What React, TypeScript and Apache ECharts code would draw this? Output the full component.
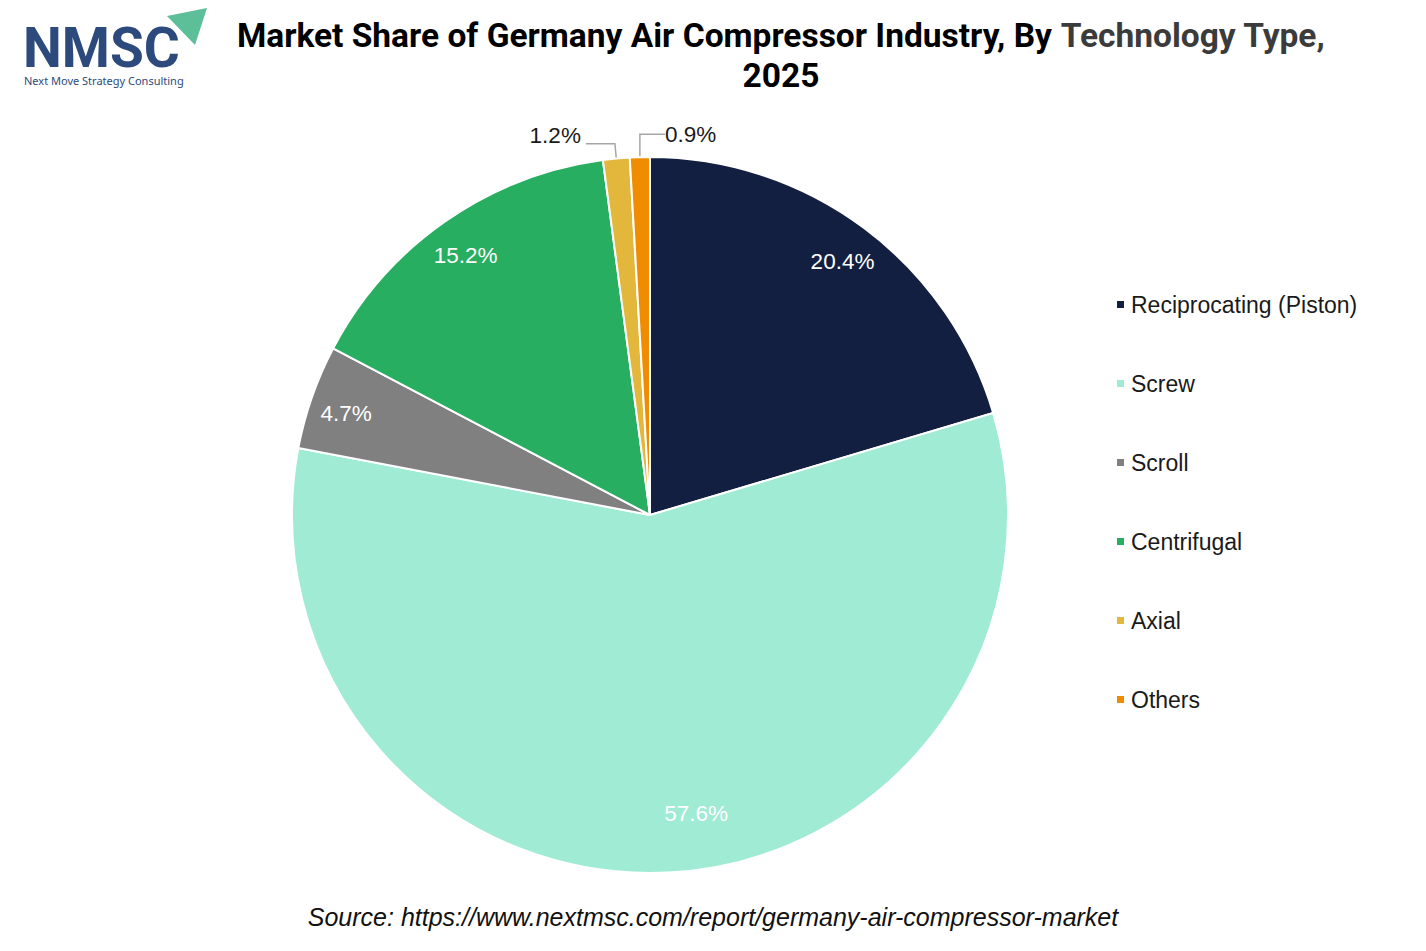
import React, { useEffect, useRef } from 'react';
import * as echarts from 'echarts';

const categories = ['Reciprocating (Piston)', 'Screw', 'Scroll', 'Centrifugal', 'Axial', 'Others'];
const shares = [20.4, 57.6, 4.7, 15.2, 1.2, 0.9];
const colors = ['#121f40', '#a0ebd3', '#808080', '#27ae60', '#e2b73c', '#f08c00'];

const FONT = '"Liberation Sans", Arial, sans-serif';
const SMALL = 2; // slices below this get an outside label

const App: React.FC = () => {
  const chartRef = useRef<HTMLDivElement>(null);

  useEffect(() => {
    document.body.style.margin = '0';
    if (!chartRef.current) return;
    const chart = echarts.init(chartRef.current, undefined, { renderer: 'svg' });

    const pieData = categories.map((name, i) => ({
      name,
      value: shares[i],
      itemStyle: { color: colors[i] },
      label: { show: shares[i] < SMALL },
      labelLine: { show: shares[i] < SMALL },
    }));
    const labelData = categories.map((name, i) => ({
      name,
      value: shares[i],
      label: { show: shares[i] >= SMALL },
    }));

    chart.setOption({
      animation: false,
      backgroundColor: '#ffffff',
      title: {
        text: '{a|Market Share of Germany Air Compressor Industry, By }{b|Technology Type,}\n{a|2025}',
        left: 776,
        top: 10,
        textAlign: 'center',
        textStyle: {
          rich: {
            a: { fontFamily: 'Roboto', fontWeight: 'bold', fontSize: 33.5, color: '#000000', lineHeight: 40 },
            b: { fontFamily: 'Roboto', fontWeight: 'bold', fontSize: 33.5, color: '#3b3b3b', lineHeight: 40 },
          },
        },
      },
      legend: {
        orient: 'vertical',
        left: 1110,
        top: 288,
        itemWidth: 9,
        itemHeight: 9,
        itemGap: 56,
        icon: 'rect',
        data: categories,
        textStyle: { fontFamily: FONT, fontSize: 23, color: '#1a1a1a', padding: [0, 0, 0, 1] },
      },
      graphic: [
        {
          type: 'text',
          left: 23,
          top: 20,
          style: { text: 'NMSC', font: 'bold 55px Roboto', fill: '#2d4a7c', lineHeight: 44 },
        },
        {
          type: 'polygon',
          shape: { points: [[167, 16], [207, 8], [195, 45]] },
          style: { fill: '#5cbf9a' },
        },
        {
          type: 'text',
          left: 24,
          top: 75,
          style: { text: 'Next Move Strategy Consulting', font: '11px "Noto Sans", sans-serif', fill: '#2d4a7c' },
        },
        {
          type: 'text',
          x: 713,
          y: 917,
          style: {
            text: 'Source: https://www.nextmsc.com/report/germany-air-compressor-market',
            font: `italic 25px ${FONT}`,
            fill: '#111111',
            align: 'center',
            verticalAlign: 'middle',
          },
        },
      ],
      series: [
        {
          type: 'pie',
          center: [650, 515],
          radius: [0, 358],
          startAngle: 90,
          clockwise: true,
          avoidLabelOverlap: false,
          itemStyle: { borderColor: '#ffffff', borderWidth: 2 },
          label: {
            position: 'outside',
            formatter: (p: any) => `${p.value}%`,
            fontFamily: FONT,
            fontSize: 22.5,
            color: '#1a1a1a',
          },
          labelLine: { length: 15, length2: 29, lineStyle: { color: '#a6a6a6', width: 1.5 } },
          labelLayout: (p: any) =>
            p.dataIndex === categories.length - 1
              ? { x: p.rect.x + p.rect.width + 14, dy: -8, align: 'left' }
              : { dy: -8 },
          emphasis: { disabled: true },
          data: pieData,
        },
        {
          type: 'pie',
          center: [650, 515],
          radius: [280, 358],
          startAngle: 90,
          clockwise: true,
          silent: true,
          itemStyle: { color: 'rgba(0,0,0,0)' },
          label: {
            position: 'inside',
            formatter: (p: any) => `${p.value}%`,
            fontFamily: FONT,
            fontSize: 22.5,
            color: '#ffffff',
            offset: [0, 5],
          },
          // the big slice's label sits a little to the right of its mid-angle, as in the source
          labelLayout: (p: any) => (p.dataIndex === 1 ? { dx: 30, dy: -28 } : {}),
          labelLine: { show: false },
          emphasis: { disabled: true },
          data: labelData,
        },
      ],
    });

    return () => {
      chart.dispose();
    };
  }, []);

  return <div ref={chartRef} style={{ width: '1426px', height: '951px' }} />;
};

export default App;
